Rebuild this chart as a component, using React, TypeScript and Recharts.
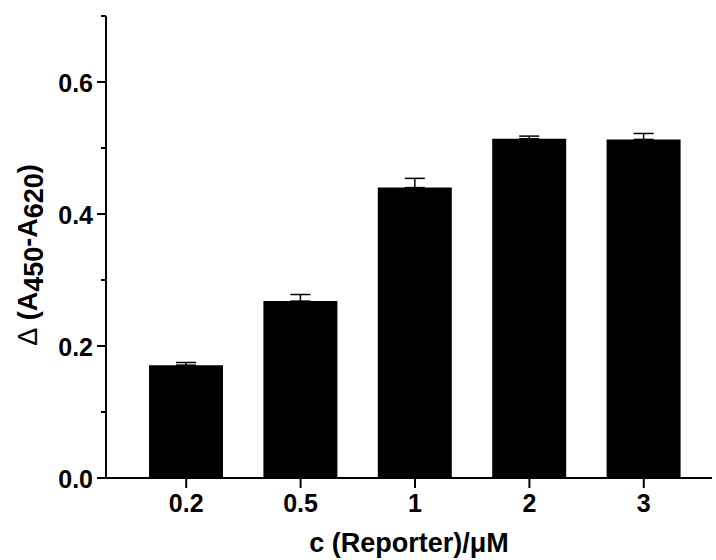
import React from "react";
import { BarChart, Bar, XAxis, YAxis, ErrorBar } from "recharts";

const concentrations = ["0.2", "0.5", "1", "2", "3"];
const signal = [0.171, 0.268, 0.44, 0.514, 0.513];
const signalErr = [0.004, 0.01, 0.014, 0.004, 0.009];
const yTicks = [0, 0.1, 0.2, 0.3, 0.4, 0.5, 0.6, 0.7];
const labelledTicks = [0, 0.2, 0.4, 0.6];

const data = concentrations.map((c, i) => ({
  c,
  value: signal[i],
  err: [0, signalErr[i]],
}));

const FONT = "'Liberation Sans', Arial, sans-serif";

function YTick(props: any) {
  const { x, y, payload } = props;
  const major = labelledTicks.some((t) => Math.abs(t - payload.value) < 1e-6);
  return (
    <g>
      <line x1={x - (major ? 9 : 5)} x2={x} y1={y} y2={y} stroke="#000" strokeWidth={2} />
      {major && (
        <text
          x={x - 13}
          y={y + 1}
          textAnchor="end"
          dominantBaseline="central"
          fontFamily={FONT}
          fontWeight="bold"
          fontSize={25}
          fill="#000"
        >
          {payload.value.toFixed(1)}
        </text>
      )}
    </g>
  );
}

function YTitle() {
  return (
    <text
      transform="translate(37, 255) rotate(-90)"
      textAnchor="middle"
      fontFamily={FONT}
      fontWeight="bold"
      fontSize={27}
      fill="#000"
    >
      <tspan fontWeight="normal">Δ</tspan>
      <tspan> (A</tspan>
      <tspan dy={6}>450</tspan>
      <tspan dy={-6}>-A</tspan>
      <tspan dy={6}>620</tspan>
      <tspan dy={-6}>)</tspan>
    </text>
  );
}

export default function App() {
  return (
    <div style={{ position: "absolute", left: 0, top: 0, background: "#fff" }}>
      <BarChart
        width={716}
        height={560}
        data={data}
        margin={{ top: 16, right: 4, left: 0, bottom: 0 }}
      >
        <XAxis
          dataKey="c"
          padding={{ left: 23, right: 11 }}
          axisLine={{ stroke: "#000", strokeWidth: 2 }}
          tickLine={{ stroke: "#000", strokeWidth: 2 }}
          tickSize={10}
          tickMargin={6}
          height={82}
          tick={{ fill: "#000", fontSize: 25, fontWeight: "bold", fontFamily: FONT }}
          label={{
            value: "c (Reporter)/μM",
            position: "insideBottom",
            offset: 8,
            fill: "#000",
            fontSize: 27,
            fontWeight: "bold",
            fontFamily: FONT,
          }}
        />
        <YAxis
          domain={[0, 0.7]}
          ticks={yTicks}
          interval={0}
          width={106}
          tickSize={0}
          tickMargin={0}
          tickLine={false}
          axisLine={{ stroke: "#000", strokeWidth: 2 }}
          tick={<YTick />}
        />
        <Bar dataKey="value" fill="#000" barSize={74} isAnimationActive={false}>
          <ErrorBar dataKey="err" width={10} stroke="#000" strokeWidth={1.5} direction="y" />
        </Bar>
        <YTitle />
      </BarChart>
    </div>
  );
}
